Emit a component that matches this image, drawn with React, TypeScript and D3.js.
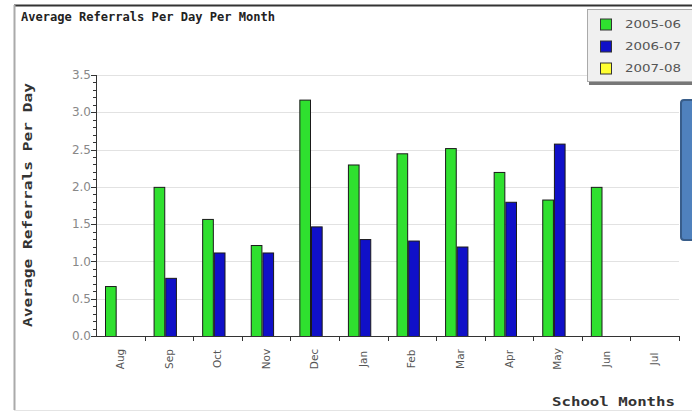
import React from 'react';
import * as d3 from 'd3';

const months = ['Aug', 'Sep', 'Oct', 'Nov', 'Dec', 'Jan', 'Feb', 'Mar', 'Apr', 'May', 'Jun', 'Jul'];
const seriesNames = ['2005-06', '2006-07', '2007-08'];
const seriesColors = ['#2fe02f', '#1010c8', '#ffff33'];
// null = no bar for that month
const values2005 = [0.67, 2.0, 1.57, 1.22, 3.17, 2.3, 2.45, 2.52, 2.2, 1.83, 2.0, null];
const values2006 = [null, 0.78, 1.12, 1.12, 1.47, 1.3, 1.28, 1.2, 1.8, 2.58, null, null];
const values2007 = [null, null, null, null, null, null, null, null, null, null, null, null];
const yTicks = [0, 0.5, 1, 1.5, 2, 2.5, 3, 3.5];

const W = 692;
const H = 417;
const plot = { left: 96, right: 679, top: 75, bottom: 336 };

export default function App() {
  const series = [values2005, values2006, values2007];

  const x = d3.scaleBand<string>().domain(months).range([plot.left, plot.right]);
  const x1 = d3.scaleBand<string>().domain(seriesNames).range([9, 44]);
  const y = d3.scaleLinear().domain([0, 3.5]).range([plot.bottom, plot.top]);
  const minorTicks = d3.range(0, 3.5001, 0.1);

  const mono = '"DejaVu Sans Mono", monospace';
  const sans = '"DejaVu Sans", sans-serif';

  return (
    <div style={{ position: 'absolute', left: 0, top: 0 }}>
      <svg width={W} height={H} style={{ display: 'block', background: '#fff' }}>
        {/* frame */}
        <line x1={14} x2={W} y1={5.5} y2={5.5} stroke="#333" strokeWidth={2} />
        <line x1={14.5} x2={14.5} y1={5} y2={410} stroke="#aaa" strokeWidth={2} />
        <line x1={14} x2={W} y1={410.5} y2={410.5} stroke="#e4e4e4" />

        <text x={21} y={21} fontFamily={mono} fontWeight="bold" fontSize={12} fill="#222"
          textLength={254} lengthAdjust="spacingAndGlyphs">
          Average Referrals Per Day Per Month
        </text>

        {/* grid */}
        {yTicks.filter(t => t > 0).map(t => (
          <line key={t} x1={plot.left} x2={plot.right} y1={Math.round(y(t)) + 0.5} y2={Math.round(y(t)) + 0.5}
            stroke="#e2e2e2" />
        ))}

        {/* bars */}
        {series.map((vals, si) => (
          <g key={si}>
            {vals.map((v, i) => v == null ? null : (
              <rect key={i}
                x={x(months[i])! + x1(seriesNames[si])! + 0.5}
                y={y(v) + 0.5}
                width={x1.bandwidth() - 1}
                height={y(0) - y(v)}
                fill={seriesColors[si]} stroke="#1a1a1a" strokeWidth={1} />
            ))}
          </g>
        ))}

        {/* y axis */}
        <line x1={plot.left + 0.5} x2={plot.left + 0.5} y1={plot.top} y2={plot.bottom} stroke="#333" />
        {minorTicks.map((t, i) => (
          <line key={i} x1={plot.left - (i % 5 === 0 ? 5 : 3)} x2={plot.left}
            y1={Math.round(y(t)) + 0.5} y2={Math.round(y(t)) + 0.5} stroke="#333" />
        ))}
        {yTicks.map(t => (
          <text key={t} x={91} y={y(t)} dy="0.35em" textAnchor="end" fontFamily={sans} fontSize={12} fill="#888">
            {d3.format('.1f')(t)}
          </text>
        ))}
        <text transform={`translate(32,${(83 + 327) / 2}) rotate(-90)`} textAnchor="middle"
          fontFamily={mono} fontWeight="bold" fontSize={12} fill="#333"
          textLength={244} lengthAdjust="spacingAndGlyphs">
          Average Referrals Per Day
        </text>

        {/* x axis */}
        <line x1={plot.left - 3} x2={plot.right} y1={plot.bottom + 0.5} y2={plot.bottom + 0.5} stroke="#333" />
        {months.map((m, i) => (
          <line key={m} x1={Math.round(x(m)! + x.bandwidth()) + 0.5} x2={Math.round(x(m)! + x.bandwidth()) + 0.5}
            y1={plot.bottom} y2={plot.bottom + 5} stroke="#333" />
        ))}
        {months.map(m => (
          <text key={m} transform={`translate(${x(m)! + x.bandwidth() / 2},359) rotate(-90)`}
            textAnchor="middle" dy="0.35em" fontFamily={sans} fontSize={10.5} fill="#555">
            {m}
          </text>
        ))}
        <text x={552} y={406} fontFamily={mono} fontWeight="bold" fontSize={12} fill="#333"
          textLength={123} lengthAdjust="spacingAndGlyphs">
          School Months
        </text>

        {/* legend */}
        <rect x={589} y={12} width={110} height={73} fill="#777" />
        <rect x={587.5} y={9.5} width={110} height={72} fill="#f0f0f0" stroke="#aaa" />
        {seriesNames.map((s, i) => (
          <g key={s} transform={`translate(0,${24.5 + i * 22})`}>
            <rect x={600.5} y={-5.5} width={11} height={11} fill={seriesColors[i]} stroke="#333" />
            <text x={625} y={0} dy="0.35em" fontFamily={sans} fontSize={11} fill="#555"
              textLength={56} lengthAdjust="spacingAndGlyphs">{s}</text>
          </g>
        ))}

        {/* overlapping shape at right edge */}
        <rect x={681} y={100} width={20} height={140} rx={3} fill="#4f81bd" stroke="#385d8a" strokeWidth={2} />
      </svg>
    </div>
  );
}
